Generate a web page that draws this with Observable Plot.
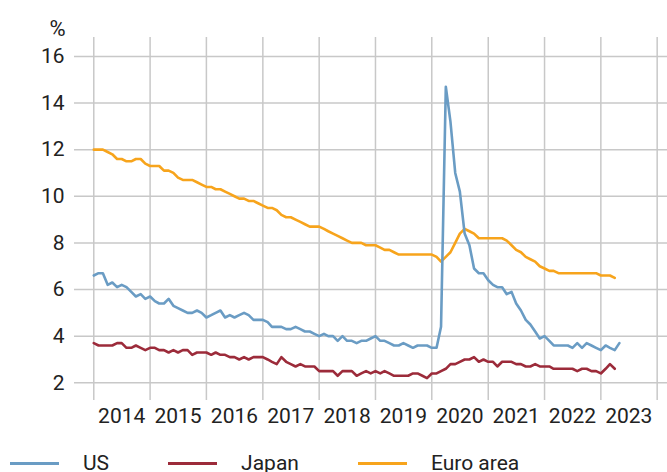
<!DOCTYPE html>
<html>
<head>
<meta charset="utf-8">
<script src="https://cdn.jsdelivr.net/npm/d3@7"></script>
<script src="https://cdn.jsdelivr.net/npm/@observablehq/plot@0.6"></script>
<style>
  html, body { margin: 0; padding: 0; background: #fff; }
  body { width: 667px; height: 472px; overflow: hidden; font-family: Roboto, "Liberation Sans", sans-serif; color: #222; }
  #legend { display: flex; align-items: center; height: 30px; padding-left: 10px; font-size: 21px; white-space: nowrap; }
  #legend .item { display: flex; align-items: center; margin-right: 59px; }
  #legend .sw { width: 49px; height: 3px; margin-right: 24px; }
</style>
</head>
<body>
<div id="chart"></div>
<div id="legend"></div>
<script>
// Monthly unemployment rates, %, starting January 2014
const seriesNames = ["US", "Japan", "Euro area"];
const seriesColors = ["#6a9cc4", "#9c2b3a", "#f7a41c"];

const usRates = [
  6.6, 6.7, 6.7, 6.2, 6.3, 6.1, 6.2, 6.1, 5.9, 5.7, 5.8, 5.6,
  5.7, 5.5, 5.4, 5.4, 5.6, 5.3, 5.2, 5.1, 5.0, 5.0, 5.1, 5.0,
  4.8, 4.9, 5.0, 5.1, 4.8, 4.9, 4.8, 4.9, 5.0, 4.9, 4.7, 4.7,
  4.7, 4.6, 4.4, 4.4, 4.4, 4.3, 4.3, 4.4, 4.3, 4.2, 4.2, 4.1,
  4.0, 4.1, 4.0, 4.0, 3.8, 4.0, 3.8, 3.8, 3.7, 3.8, 3.8, 3.9,
  4.0, 3.8, 3.8, 3.7, 3.6, 3.6, 3.7, 3.6, 3.5, 3.6, 3.6, 3.6,
  3.5, 3.5, 4.4, 14.7, 13.2, 11.0, 10.2, 8.4, 7.9, 6.9, 6.7, 6.7,
  6.4, 6.2, 6.1, 6.1, 5.8, 5.9, 5.4, 5.1, 4.7, 4.5, 4.2, 3.9,
  4.0, 3.8, 3.6, 3.6, 3.6, 3.6, 3.5, 3.7, 3.5, 3.7, 3.6, 3.5,
  3.4, 3.6, 3.5, 3.4, 3.7
];
const japanRates = [
  3.7, 3.6, 3.6, 3.6, 3.6, 3.7, 3.7, 3.5, 3.5, 3.6, 3.5, 3.4,
  3.5, 3.5, 3.4, 3.4, 3.3, 3.4, 3.3, 3.4, 3.4, 3.2, 3.3, 3.3,
  3.3, 3.2, 3.3, 3.2, 3.2, 3.1, 3.1, 3.0, 3.1, 3.0, 3.1, 3.1,
  3.1, 3.0, 2.9, 2.8, 3.1, 2.9, 2.8, 2.7, 2.8, 2.7, 2.7, 2.7,
  2.5, 2.5, 2.5, 2.5, 2.3, 2.5, 2.5, 2.5, 2.3, 2.4, 2.5, 2.4,
  2.5, 2.4, 2.5, 2.4, 2.3, 2.3, 2.3, 2.3, 2.4, 2.4, 2.3, 2.2,
  2.4, 2.4, 2.5, 2.6, 2.8, 2.8, 2.9, 3.0, 3.0, 3.1, 2.9, 3.0,
  2.9, 2.9, 2.7, 2.9, 2.9, 2.9, 2.8, 2.8, 2.7, 2.7, 2.8, 2.7,
  2.7, 2.7, 2.6, 2.6, 2.6, 2.6, 2.6, 2.5, 2.6, 2.6, 2.5, 2.5,
  2.4, 2.6, 2.8, 2.6
];
const euroRates = [
  12.0, 12.0, 12.0, 11.9, 11.8, 11.6, 11.6, 11.5, 11.5, 11.6, 11.6, 11.4,
  11.3, 11.3, 11.3, 11.1, 11.1, 11.0, 10.8, 10.7, 10.7, 10.7, 10.6, 10.5,
  10.4, 10.4, 10.3, 10.3, 10.2, 10.1, 10.0, 9.9, 9.9, 9.8, 9.8, 9.7,
  9.6, 9.5, 9.5, 9.4, 9.2, 9.1, 9.1, 9.0, 8.9, 8.8, 8.7, 8.7,
  8.7, 8.6, 8.5, 8.4, 8.3, 8.2, 8.1, 8.0, 8.0, 8.0, 7.9, 7.9,
  7.9, 7.8, 7.7, 7.7, 7.6, 7.5, 7.5, 7.5, 7.5, 7.5, 7.5, 7.5,
  7.5, 7.4, 7.2, 7.4, 7.6, 8.0, 8.4, 8.6, 8.5, 8.4, 8.2, 8.2,
  8.2, 8.2, 8.2, 8.2, 8.1, 7.9, 7.7, 7.6, 7.4, 7.3, 7.2, 7.0,
  6.9, 6.8, 6.8, 6.7, 6.7, 6.7, 6.7, 6.7, 6.7, 6.7, 6.7, 6.7,
  6.6, 6.6, 6.6, 6.5
];

const yearLabels = [2014, 2015, 2016, 2017, 2018, 2019, 2020, 2021, 2022, 2023];
const gridYears = [2014, 2015, 2016, 2017, 2018, 2019, 2020, 2021, 2022, 2023, 2024];
const yTicks = [2, 4, 6, 8, 10, 12, 14, 16];

const monthDate = (i) => new Date(Date.UTC(2014, i, 1));
const toRows = (arr, name) => arr.map((v, i) => ({date: monthDate(i), value: v, series: name}));
const rows = [
  ...toRows(euroRates, "Euro area"),
  ...toRows(japanRates, "Japan"),
  ...toRows(usRates, "US")
];

const gridDates = gridYears.map(y => new Date(Date.UTC(y, 0, 1)));
const labelDates = yearLabels.map(y => new Date(Date.UTC(y, 6, 1)));

const chart = Plot.plot({
  width: 667,
  height: 448,
  marginTop: 37,
  marginBottom: 48,
  marginLeft: 74,
  marginRight: 0,
  style: {fontFamily: "Roboto, 'Liberation Sans', sans-serif", fontSize: "21px", color: "#222", background: "#fff", overflow: "visible"},
  x: {type: "utc", domain: [new Date(Date.UTC(2013, 7, 29)), new Date(Date.UTC(2024, 2, 8))]},
  y: {domain: [1.24, 16.81]},
  color: {domain: seriesNames, range: seriesColors},
  marks: [
    Plot.ruleY(yTicks, {stroke: "#c8c8c8", strokeWidth: 1.5}),
    Plot.ruleX(gridDates, {stroke: "#c8c8c8", strokeWidth: 1.5}),
    Plot.axisY(yTicks, {tickSize: 0, tickPadding: 10, label: null, fontSize: 21}),
    Plot.axisX(labelDates, {tickSize: 0, tickPadding: 8, label: null, tickFormat: d => String(d.getUTCFullYear()), fontSize: 21}),
    Plot.text(["%"], {frameAnchor: "top-left", dx: -9, dy: -17, textAnchor: "end", fontSize: 22}),
    Plot.line(rows, {x: "date", y: "value", z: "series", stroke: "series", strokeWidth: 2.6, strokeLinejoin: "round", strokeLinecap: "round"})
  ]
});
document.getElementById("chart").appendChild(chart);

const legend = document.getElementById("legend");
seriesNames.forEach((name, i) => {
  const item = document.createElement("div");
  item.className = "item";
  const sw = document.createElement("span");
  sw.className = "sw";
  sw.style.background = seriesColors[i];
  const label = document.createElement("span");
  label.textContent = name;
  item.appendChild(sw);
  item.appendChild(label);
  legend.appendChild(item);
});
</script>
</body>
</html>
